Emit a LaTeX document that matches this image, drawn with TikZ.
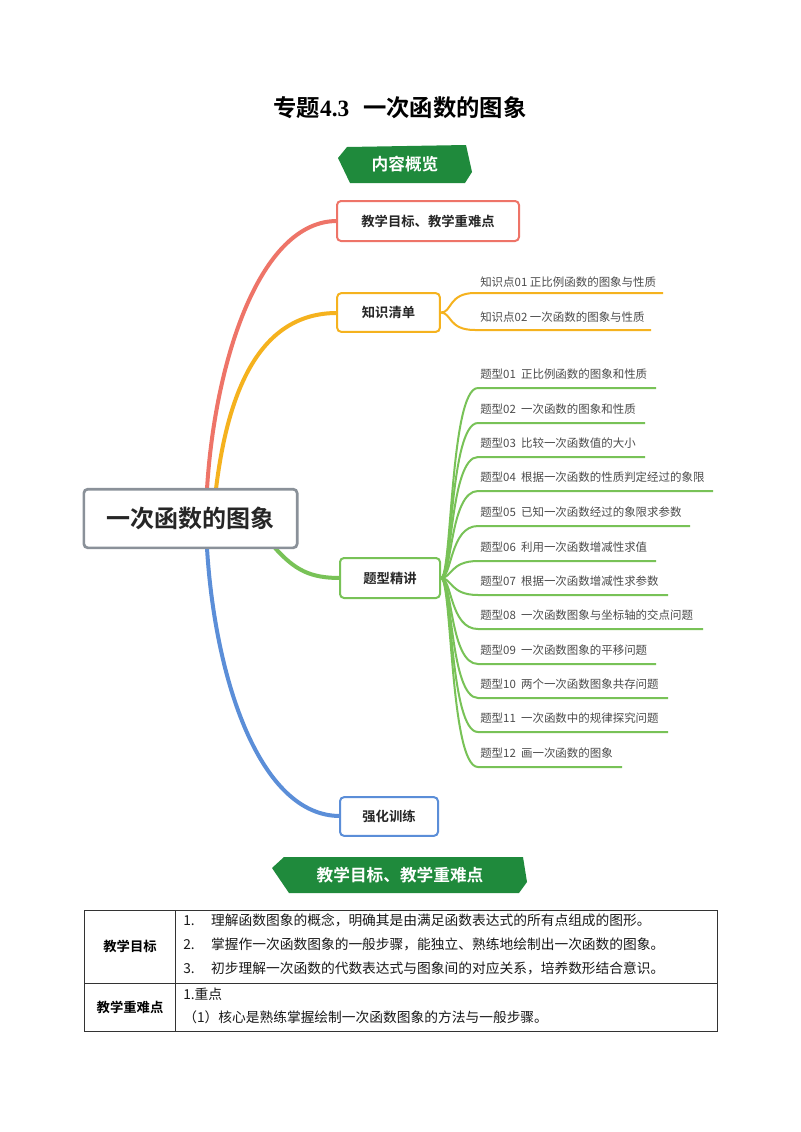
\documentclass[tikz,border=0pt]{standalone}
\usepackage{fontspec}
\setmainfont{Liberation Serif}
\newfontfamily\cjk{Noto Sans CJK SC}[BoldFont={Noto Sans CJK SC Bold}]
\begin{document}
\begin{tikzpicture}[x=0.75pt,y=-0.75pt,
  box/.style={draw,rounded corners=3pt,line width=1.5pt,fill=white,font=\cjk\bfseries\fontsize{10}{12}\selectfont,text=black!85},
  item/.style={anchor=west,font=\cjk\fontsize{8.6}{10}\selectfont,text=black!70,inner sep=0pt},
  cell/.style={anchor=west,font=\cjk\fontsize{10.3}{12}\selectfont,text=black!90,inner sep=0pt},
  banner/.style={fill=bangreen},
  bantext/.style={font=\cjk\bfseries\fontsize{12.5}{14}\selectfont,text=white}]
\definecolor{bangreen}{HTML}{1F8A3C}
\definecolor{cred}{HTML}{EE7468}
\definecolor{corange}{HTML}{F5B21E}
\definecolor{cgreen}{HTML}{78C257}
\definecolor{cblue}{HTML}{5B8ED8}
\definecolor{cgray}{HTML}{8A9199}
\useasboundingbox (0,0) rectangle (800,1132);
\fill[white] (0,0) rectangle (800,1132);
% title
\node[font=\bfseries\fontsize{17.5}{20}\selectfont] (title) at (400,108) {{\cjk 专题}4.3\hspace{0.6em}{\cjk 一次函数的图象}};
% banner 1
\fill[banner] (347,147) -- (466,145) -- (472,172) -- (465,183) -- (350,183) -- (338,158) -- cycle;
\node[bantext] (b1) at (405,164) {内容概览};
% branches
\coordinate (mr) at (207,489);
\coordinate (mo) at (216,489);
\coordinate (mg) at (275,548);
\coordinate (mb) at (207,548);
\draw[cred,line width=3pt] (mr) .. controls (215,360) and (260,221) .. (337,221);
\draw[corange,line width=3pt] (mo) .. controls (228,390) and (260,313) .. (337,313);
\draw[cgreen,line width=3pt] (mg) .. controls (295,570) and (310,578) .. (340,578);
\draw[cblue,line width=3pt] (mb) .. controls (215,680) and (260,816) .. (340,816);
% boxes
\node[box,draw=cgray,line width=2pt,font=\cjk\bfseries\fontsize{18}{20}\selectfont,minimum width=160pt,minimum height=44pt] (main) at (190.5,518.5) {一次函数的图象};
\node[box,draw=cred,minimum width=136.5pt,minimum height=30pt] (goal) at (428,221) {教学目标、教学重难点};
\node[box,draw=corange,minimum width=77pt,minimum height=29pt] (zs) at (388.5,312.5) {知识清单};
\node[box,draw=cgreen,minimum width=75pt,minimum height=30pt] (tx) at (390,578) {题型精讲};
\node[box,draw=cblue,minimum width=73.5pt,minimum height=29pt] (qh) at (389,816.5) {强化训练};
% knowledge items
\draw[corange,line width=1.5pt] (zs.east) .. controls (452,313) and (448,293) .. (475,293) -- (663,293);
\draw[corange,line width=1.5pt] (zs.east) .. controls (452,313) and (448,330) .. (475,330) -- (651,330);
\node[item] (k1) at (480,282) {知识点01 正比例函数的图象与性质};
\node[item] (k2) at (480,317) {知识点02 一次函数的图象与性质};
% question types
\foreach \ty/\xe/\t [count=\i] in {374/656/{题型01\ \ 正比例函数的图象和性质},409/645/{题型02\ \ 一次函数的图象和性质},443/645/{题型03\ \ 比较一次函数值的大小},477/713/{题型04\ \ 根据一次函数的性质判定经过的象限},512/690/{题型05\ \ 已知一次函数经过的象限求参数},547/656/{题型06\ \ 利用一次函数增减性求值},581/668/{题型07\ \ 根据一次函数增减性求参数},615/703/{题型08\ \ 一次函数图象与坐标轴的交点问题},650/656/{题型09\ \ 一次函数图象的平移问题},684/668/{题型10\ \ 两个一次函数图象共存问题},718/668/{题型11\ \ 一次函数中的规律探究问题},753/622/{题型12\ \ 画一次函数的图象}}{
  \pgfmathsetmacro\ly{\ty+14}
  \draw[cgreen,line width=1.5pt] (tx.east) .. controls (452,578) and (450,\ly) .. (478,\ly) -- (\xe,\ly);
  \node[item] (t\i) at (480,\ty) {\t};
}
% banner 2
\fill[banner] (284,857) -- (523,857) -- (527,882) -- (519,893) -- (289,893) -- (272,868) -- cycle;
\node[bantext] (b2) at (400,875) {教学目标、教学重难点};
% table
\draw[line width=0.6pt,black!80] (84,910) rectangle (717,1031);
\draw[line width=0.6pt,black!80] (84,983) -- (717,983);
\draw[line width=0.6pt,black!80] (175,910) -- (175,1031);
\node[font=\cjk\bfseries\fontsize{10}{11}\selectfont] (c1) at (130,946) {教学目标};
\node[font=\cjk\bfseries\fontsize{10}{11}\selectfont] (c2) at (130,1007) {教学重难点};
\node[cell] (r1) at (183,920) {1.\hspace{1.2em}理解函数图象的概念，明确其是由满足函数表达式的所有点组成的图形。};
\node[cell] (r2) at (183,944) {2.\hspace{1.2em}掌握作一次函数图象的一般步骤，能独立、熟练地绘制出一次函数的图象。};
\node[cell] (r3) at (183,968) {3.\hspace{1.2em}初步理解一次函数的代数表达式与图象间的对应关系，培养数形结合意识。};
\node[cell] (r4) at (183,994) {1.重点};
\node[cell] (r5) at (183,1017) {（1）核心是熟练掌握绘制一次函数图象的方法与一般步骤。};
\end{tikzpicture}
\end{document}
